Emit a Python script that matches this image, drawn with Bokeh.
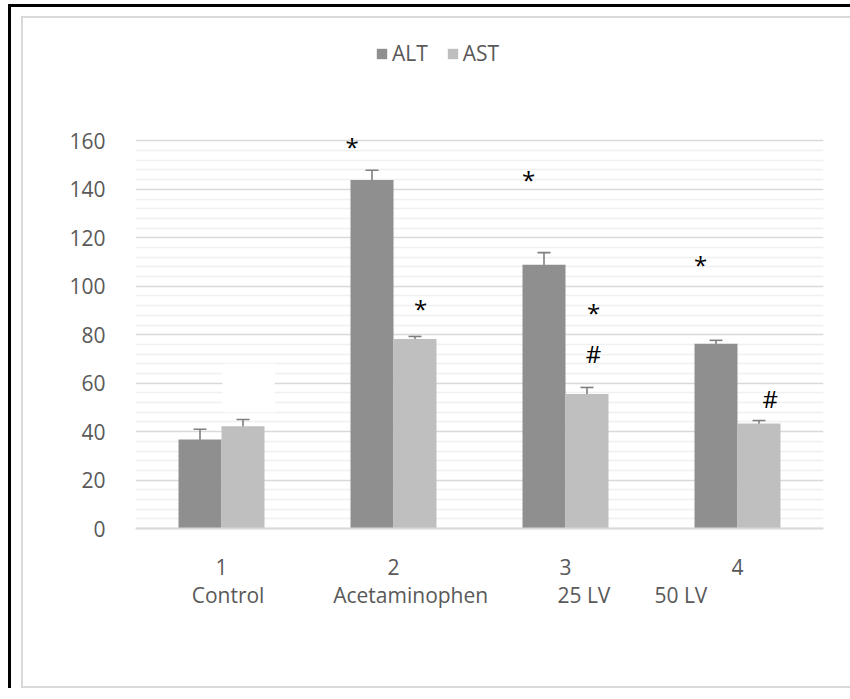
from bokeh.plotting import figure
from bokeh.models import (Range1d, FixedTicker, ColumnDataSource, Whisker, TeeHead,
                          Legend, LegendItem, Span)
from bokeh.layouts import column
from bokeh.core.properties import value
from bokeh.embed import file_html
from bokeh.resources import INLINE

# ---- data ----
groups = [1, 2, 3, 4]
tick_labels = ["1", "2", "3", "4"]
group_names = ["Control", "Acetaminophen", "25 LV", "50 LV"]
alt = [36.8, 143.9, 108.9, 76.3]
ast = [42.2, 78.2, 55.5, 43.4]
alt_err = [4.2, 4.0, 5.0, 1.4]
ast_err = [2.8, 1.1, 2.75, 1.2]
y_ticks = [0, 20, 40, 60, 80, 100, 120, 140, 160]

# significance marks (text, x in category units, y in value units)
mark_text = ["*", "*", "*", "*", "#", "*", "#"]
mark_x = [1.76, 2.157, 2.785, 3.163, 3.163, 3.785, 4.19]
mark_y = [157.5, 90.7, 143.9, 89.1, 72.2, 108.9, 53.7]

# second row of category names (x in category units)
name_x = [1.038, 2.10, 3.107, 3.671]

FONT = "Open Sans"
TXT = "#595959"
ALT_C = "#8F8F8F"
AST_C = "#BFBFBF"
GRID = "#D9D9D9"

p = figure(width=834, height=672, x_range=Range1d(0.5, 4.5), y_range=Range1d(-66.8, 210.5),
           output_backend="svg", toolbar_location=None, x_axis_location=None,
           min_border_left=112, min_border_right=34, min_border_top=0, min_border_bottom=0,
           styles={"border": "2px solid #D9D9D9"}, margin=(9, 0, 0, 10))
p.outline_line_color = None
p.background_fill_color = "white"
p.border_fill_color = "white"

bw = 0.25
alt_x = [g - bw / 2 for g in groups]
ast_x = [g + bw / 2 for g in groups]

r_alt = p.vbar(x=alt_x, top=alt, width=bw, fill_color=ALT_C, line_color=None)
r_ast = p.vbar(x=ast_x, top=ast, width=bw, fill_color=AST_C, line_color=None)

# white patch over control group (as in original)
p.quad(left=[1.006], right=[1.31], bottom=[48], top=[68], fill_color="white", line_color=None)

# x axis line at zero
p.add_layout(Span(location=0, dimension="width", line_color=GRID, line_width=2))

# error bars
src = ColumnDataSource(dict(
    x=alt_x + ast_x,
    upper=[v + e for v, e in zip(alt, alt_err)] + [v + e for v, e in zip(ast, ast_err)],
    lower=[v - e for v, e in zip(alt, alt_err)] + [v - e for v, e in zip(ast, ast_err)],
))
ERR = "#7F7F7F"
w = Whisker(source=src, base="x", upper="upper", lower="lower",
            line_color=ERR, line_width=1.6,
            upper_head=TeeHead(size=13, line_color=ERR, line_width=1.6),
            lower_head=TeeHead(size=13, line_color=ERR, line_width=1.6))
p.add_layout(w)

# significance marks
p.text(x=mark_x, y=mark_y, text=mark_text, text_font=value(FONT), text_font_size="24px",
       text_color="black", text_align="center", text_baseline="middle")

# category labels (two rows)
p.text(x=groups, y=[-16.0] * len(groups), text=tick_labels, text_font=value(FONT),
       text_font_size="21px", text_color=TXT, text_align="center", text_baseline="middle")
p.text(x=name_x, y=[-27.3] * len(name_x), text=group_names, text_font=value(FONT),
       text_font_size="21px", text_color=TXT, text_align="center", text_baseline="middle")

p.yaxis.ticker = FixedTicker(ticks=y_ticks,
                             minor_ticks=[v for v in range(4, 160, 4) if v % 20])
p.yaxis.major_label_text_font = FONT
p.yaxis.major_label_text_font_size = "21px"
p.yaxis.major_label_text_color = TXT
p.yaxis.major_label_standoff = 24
p.yaxis.axis_line_color = None
p.yaxis.major_tick_line_color = None
p.yaxis.minor_tick_line_color = None

p.xgrid.visible = False
p.xgrid.grid_line_color = None
p.ygrid.grid_line_color = GRID
p.ygrid.grid_line_width = 1.5
p.ygrid.minor_grid_line_color = "#F0F0F0"
p.ygrid.minor_grid_line_width = 1.5

legend = Legend(items=[LegendItem(label="ALT", renderers=[r_alt]),
                       LegendItem(label="AST", renderers=[r_ast])],
                orientation="horizontal", location=(240, 623),
                glyph_width=13, glyph_height=13, label_standoff=4, spacing=18,
                padding=0, margin=0, border_line_color=None, background_fill_alpha=0,
                label_text_font=FONT, label_text_font_size="21px", label_text_color=TXT)
p.add_layout(legend)

layout = column(p, margin=(4, 0, 0, 8),
                styles={"border-top": "3px solid black", "border-left": "3px solid black"})

open("out.html", "w").write(file_html(layout, INLINE))
